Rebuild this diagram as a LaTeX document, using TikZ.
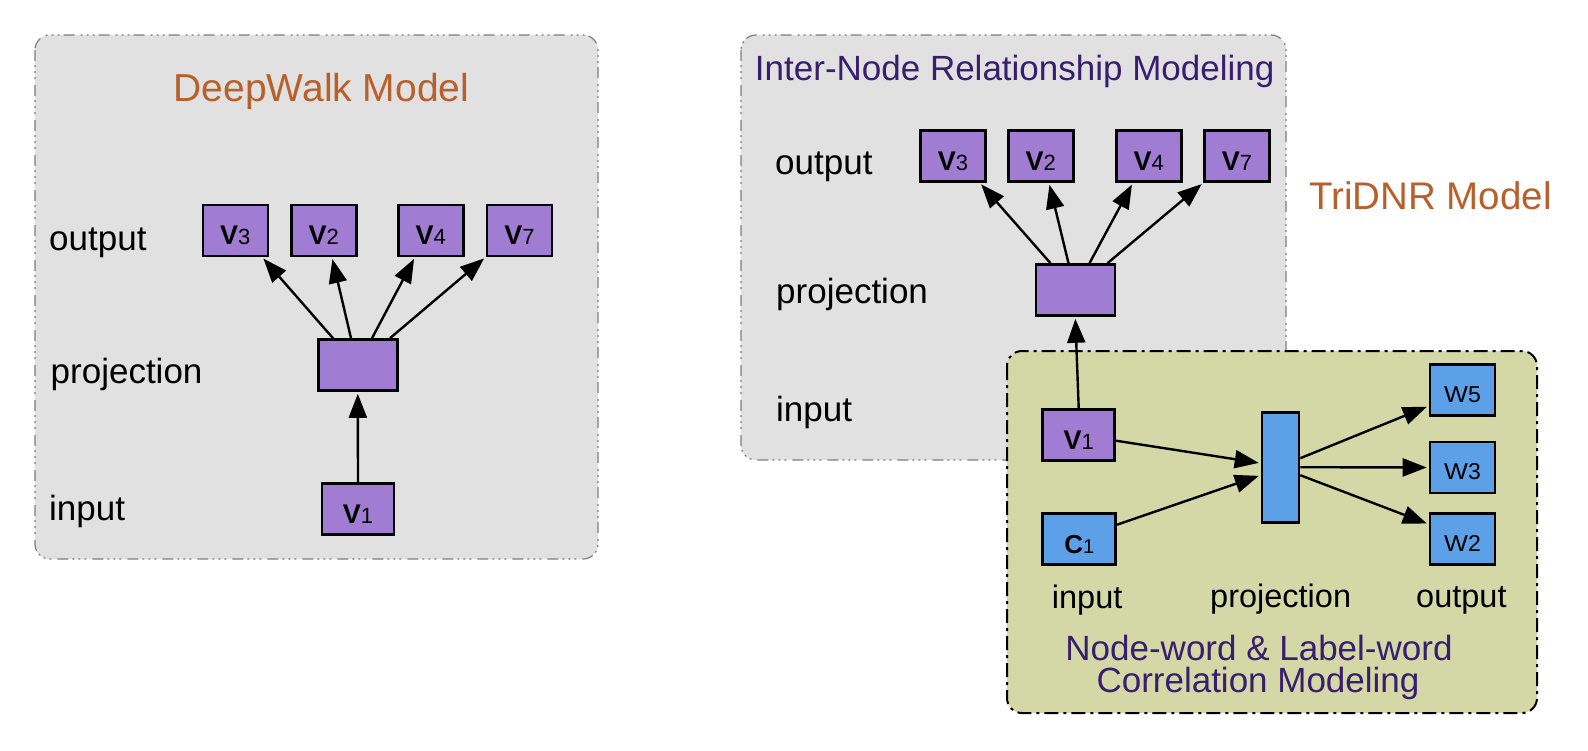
\documentclass[tikz,border=0pt]{standalone}
\usepackage{fontspec}
\setmainfont{Liberation Sans}
\usepackage{graphicx}
\usetikzlibrary{arrows.meta,calc}
\definecolor{boxgray}{RGB}{225,225,225}
\definecolor{bordergray}{RGB}{125,125,125}
\definecolor{vpurple}{RGB}{160,125,210}
\definecolor{wblue}{RGB}{92,160,232}
\definecolor{olivegreen}{RGB}{211,216,166}
\definecolor{titleorange}{RGB}{184,96,44}
\definecolor{titlepurple}{RGB}{58,30,110}
\newcommand\fsz[1]{\fontsize{#1}{#1}\selectfont}
\newcommand\vtxt[1]{{\fsz{27}\bfseries V}{\fsz{22}#1}}
\newcommand\wtxt[1]{{\fsz{23}\scalebox{1.1}[1]{W}#1}}
\newcommand\ctxt[1]{{\fsz{26}\bfseries C}{\fsz{20}#1}}
\tikzset{
  panel/.style={draw=bordergray, fill=boxgray, line width=1.2pt, rounded corners=15pt,
    dash pattern=on 11pt off 4pt on 2pt off 4pt on 2pt off 4pt on 2pt off 6pt},
  greenpanel/.style={draw=black, fill=olivegreen, line width=2pt, rounded corners=15pt,
    dash pattern=on 14pt off 5pt on 3pt off 5pt},
  unit/.style={draw=black, line width=2.6pt, inner sep=0pt, text depth=0pt},
  vnode/.style={unit, fill=vpurple, minimum width=65pt, minimum height=51pt, text height=29pt},
  pnode/.style={unit, fill=vpurple, minimum width=79pt, minimum height=51pt},
  cnode/.style={unit, fill=wblue, minimum width=73pt, minimum height=51pt, text height=29pt},
  wnode/.style={unit, fill=wblue, minimum width=65pt, minimum height=51pt, text height=24pt},
  bpnode/.style={unit, fill=wblue, minimum width=37pt, minimum height=110pt},
  lbl/.style={font=\fsz{35}, inner sep=0pt, anchor=base west},
  glbl/.style={font=\fsz{32.5}, inner sep=0pt, anchor=base west},
  arr/.style={-{Triangle[length=24pt,width=18pt]}, line width=2.4pt, shorten >=2pt},
}
\begin{document}
\begin{tikzpicture}[x=1pt,y=-1pt]
\useasboundingbox (0,0) rectangle (1588,750);
% panels
\draw[panel] (35,35) rectangle (598,559);
\draw[panel] (741,35) rectangle (1286,460);
\draw[greenpanel] (1007,351) rectangle (1537,713);

% ---- DeepWalk
\node[anchor=base, inner sep=0pt, text=titleorange, font=\fsz{39}] (dwt) at (321.5,101) {DeepWalk Model};
\node[lbl] (outL) at (49,250) {output};
\node[lbl] (projL) at (50.5,383.3) {projection};
\node[lbl] (inL) at (49,520) {input};
\node[vnode] (v3L) at (235.3,230.3) {\vtxt{3}};
\node[vnode] (v2L) at (323.8,230.3) {\vtxt{2}};
\node[vnode] (v4L) at (430.8,230.3) {\vtxt{4}};
\node[vnode] (v7L) at (519.5,230.3) {\vtxt{7}};
\node[pnode] (pL) at (357.8,365) {};
\node[vnode, minimum width=72pt] (v1L) at (358,509) {\vtxt{1}};
\draw[arr] ([xshift=16pt]pL.north west) -- ([xshift=-7pt]v3L.south east);
\draw[arr] ([xshift=34pt]pL.north west) -- ([xshift=42pt]v2L.south west);
\draw[arr] ([xshift=55pt]pL.north west) -- ([xshift=18pt]v4L.south west);
\draw[arr] ([xshift=73pt]pL.north west) -- (v7L.south west);
\draw[arr] (v1L.north) -- (pL.south);

% ---- Inter-node
\node[anchor=base, inner sep=0pt, text=titlepurple, font=\fsz{35}] (irt) at (1014.7,80) {Inter-Node Relationship Modeling};
\node[lbl] (outR) at (775,174) {output};
\node[lbl] (projR) at (776,303.3) {projection};
\node[lbl] (inR) at (776,421.7) {input};
\node[vnode] (v3R) at (953,156) {\vtxt{3}};
\node[vnode] (v2R) at (1040.8,156) {\vtxt{2}};
\node[vnode] (v4R) at (1148.7,156) {\vtxt{4}};
\node[vnode] (v7R) at (1237,156) {\vtxt{7}};
\node[pnode] (pR) at (1075.3,290) {};
\draw[arr] ([xshift=16pt]pR.north west) -- ([xshift=-7pt]v3R.south east);
\draw[arr] ([xshift=34pt]pR.north west) -- ([xshift=42pt]v2R.south west);
\draw[arr] ([xshift=55pt]pR.north west) -- ([xshift=18pt]v4R.south west);
\draw[arr] ([xshift=73pt]pR.north west) -- (v7R.south west);

\node[anchor=base west, inner sep=0pt, text=titleorange, font=\fsz{38.5}] (tri) at (1309,209.3) {TriDNR Model};

% ---- Node-word / Label-word
\node[vnode, minimum width=72pt] (v1R) at (1078.7,434.7) {\vtxt{1}};
\node[cnode] (c1) at (1079.2,538.7) {\ctxt{1}};
\node[bpnode] (bp) at (1280.5,467.2) {};
\node[wnode] (w5) at (1462.5,390) {\wtxt{5}};
\node[wnode] (w3) at (1462.5,467.5) {\wtxt{3}};
\node[wnode] (w2) at (1462.5,539.2) {\wtxt{2}};
\node[glbl] (gin) at (1051.7,608) {input};
\node[glbl] (gproj) at (1210,607.7) {projection};
\node[glbl] (gout) at (1416,607.7) {output};
\node[anchor=base, inner sep=0pt, text=titlepurple, font=\fsz{35}] (nw1) at (1259,660) {Node-word \& Label-word};
\node[anchor=base, inner sep=0pt, text=titlepurple, font=\fsz{35}] (nw2) at (1258,692) {Correlation Modeling};

\draw[arr] (v1R.north) -- (pR.south);
\draw[arr] ([yshift=-6pt]v1R.east) -- ([yshift=4pt]bp.west);
\draw[arr] ([yshift=14pt]c1.east) -- ([yshift=-8pt]bp.west);
\draw[arr] ([yshift=9pt]bp.east) -- ([yshift=-16pt]w5.west);
\draw[arr] (bp.east) -- (w3.west);
\draw[arr] ([yshift=-8pt]bp.east) -- ([yshift=15pt]w2.west);
\end{tikzpicture}
\end{document}
